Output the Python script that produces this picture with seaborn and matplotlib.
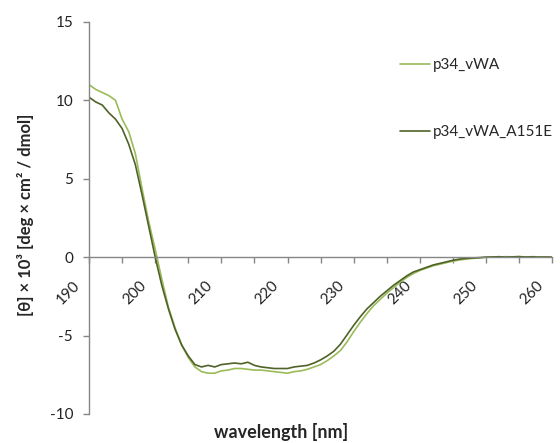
import numpy as np
import pandas as pd
import matplotlib
matplotlib.use("Agg")
import matplotlib.pyplot as plt
import matplotlib.transforms as mtransforms
import seaborn as sns

# wavelength grid (nm) and CD signal ([theta] x 10^3)
wavelength = list(range(190, 261))
series_names = ["p34_vWA", "p34_vWA_A151E"]

theta_wt = [
    11.0, 10.7, 10.5, 10.3, 10.0, 8.8, 8.0, 6.6, 4.4, 2.3,
    0.5, -1.4, -3.2, -4.5, -5.6, -6.4, -7.0, -7.3, -7.4, -7.4,
    -7.25, -7.2, -7.1, -7.1, -7.15, -7.2, -7.2, -7.25, -7.3, -7.35,
    -7.4, -7.3, -7.25, -7.15, -7.0, -6.85, -6.6, -6.3, -5.95, -5.4,
    -4.75, -4.15, -3.6, -3.1, -2.7, -2.3, -1.95, -1.6, -1.3, -1.05,
    -0.85, -0.7, -0.55, -0.45, -0.35, -0.25, -0.18, -0.12, -0.08, -0.05,
    0.0, 0.02, 0.0, 0.03, 0.02, 0.04, 0.01, 0.03, 0.02, 0.0,
    0.0,
]
theta_mut = [
    10.2, 9.9, 9.7, 9.2, 8.8, 8.2, 7.2, 5.9, 4.0, 2.0,
    0.0, -1.8, -3.3, -4.6, -5.6, -6.3, -6.85, -7.0, -6.9, -7.0,
    -6.85, -6.8, -6.75, -6.8, -6.7, -6.9, -7.0, -7.05, -7.1, -7.1,
    -7.1, -7.0, -6.95, -6.9, -6.75, -6.55, -6.3, -6.0, -5.55, -4.95,
    -4.35, -3.8, -3.3, -2.9, -2.5, -2.15, -1.8, -1.5, -1.2, -0.95,
    -0.8, -0.65, -0.5, -0.4, -0.3, -0.2, -0.12, -0.08, -0.05, -0.03,
    0.0, 0.01, 0.03, 0.0, 0.02, 0.03, 0.01, 0.02, 0.0, 0.01,
    0.0,
]

colors = ["#9BBB59", "#4F6228"]

df = pd.concat([
    pd.DataFrame({"wavelength": wavelength, "theta": theta_wt, "sample": series_names[0]}),
    pd.DataFrame({"wavelength": wavelength, "theta": theta_mut, "sample": series_names[1]}),
])

sns.set_style("white")
plt.rcParams["font.family"] = ["Lato", "DejaVu Sans"]
plt.rcParams["axes.unicode_minus"] = False

fig = plt.figure(figsize=(5.6, 4.43), dpi=100)
ax = fig.add_axes([0.159, 0.0655, 0.827, 0.885])

sns.lineplot(data=df, x="wavelength", y="theta", hue="sample",
             palette=colors, linewidth=1.2, ax=ax)

ax.set_xlim(190, 260)
ax.set_ylim(-10, 15)
ax.set_xticks(range(190, 261, 10))
ax.set_xticks(range(195, 261, 10), minor=True)
ax.set_yticks(range(-10, 16, 5))

grey = "#868686"
for side in ["top", "right"]:
    ax.spines[side].set_visible(False)
ax.spines["bottom"].set_position(("data", 0))
ax.spines["left"].set_color(grey)
ax.spines["bottom"].set_color(grey)
ax.spines["left"].set_linewidth(1.0)
ax.spines["bottom"].set_linewidth(1.0)

ax.tick_params(axis="both", which="both", direction="out", color=grey,
               length=4.5, width=1.0, labelsize=11, labelcolor="#222222")
ax.tick_params(axis="y", pad=7)
ax.tick_params(axis="x", pad=8)
ax.xaxis.set_ticks_position("bottom")
ax.yaxis.set_ticks_position("left")
# excel-style slanted labels hanging off the zero line
shift = mtransforms.ScaledTranslation(-0.06, -0.04, fig.dpi_scale_trans)
for lbl in ax.get_xticklabels():
    lbl.set_rotation(45)
    lbl.set_ha("right")
    lbl.set_transform(lbl.get_transform() + shift)

ax.set_xlabel("")
ax.set_ylabel("")
fig.text(0.045, 0.515, "[θ] × 10³ [deg × cm² / dmol]", rotation=90,
         ha="center", va="center", fontsize=12, fontweight="bold")
fig.text(0.502, 0.004, "wavelength [nm]", ha="center", va="bottom",
         fontsize=13, fontweight="bold")

handles, labels = ax.get_legend_handles_labels()
ax.legend(handles, labels, loc="upper left", bbox_to_anchor=(0.714, 0.868),
          bbox_transform=fig.transFigure, frameon=False, fontsize=11,
          handlelength=2.0, handletextpad=0.15, labelspacing=3.45,
          borderpad=0, borderaxespad=0)

fig.savefig("out.png", dpi=100)
